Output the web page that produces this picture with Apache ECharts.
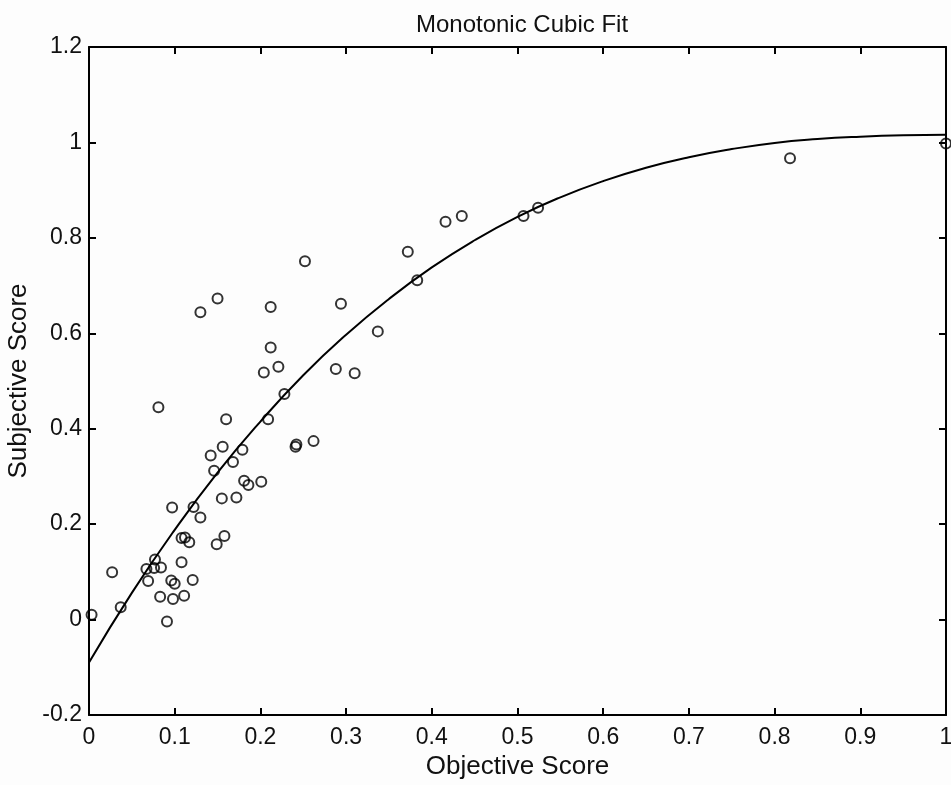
<!DOCTYPE html>
<html>
<head>
<meta charset="utf-8">
<script src="https://cdn.jsdelivr.net/npm/echarts@6/dist/echarts.min.js"></script>
<style>
  html, body { margin: 0; padding: 0; background: #fdfdfd; }
  #chart { width: 951px; height: 785px; }
</style>
</head>
<body>
<div id="chart"></div>
<script>
// Puntos medidos (puntuación objetiva, puntuación subjetiva)
const objectiveScores = [
  0.003, 0.027, 0.037, 0.067, 0.069, 0.076, 0.077, 0.083, 0.084, 0.081,
  0.091, 0.096, 0.097, 0.098, 0.100, 0.108, 0.108, 0.112, 0.111, 0.117,
  0.121, 0.122, 0.130, 0.130, 0.142, 0.146, 0.149, 0.150, 0.155, 0.156,
  0.158, 0.160, 0.168, 0.172, 0.179, 0.181, 0.186, 0.201, 0.204, 0.209,
  0.212, 0.212, 0.221, 0.228, 0.241, 0.242, 0.252, 0.262, 0.288, 0.294,
  0.310, 0.337, 0.372, 0.383, 0.416, 0.435, 0.507, 0.524, 0.818, 1.000
];
const subjectiveScores = [
  0.010, 0.099, 0.026, 0.106, 0.081, 0.108, 0.126, 0.048, 0.109, 0.445,
  -0.004, 0.082, 0.235, 0.043, 0.075, 0.120, 0.171, 0.172, 0.050, 0.162,
  0.083, 0.236, 0.214, 0.644, 0.344, 0.312, 0.158, 0.673, 0.254, 0.362,
  0.175, 0.420, 0.330, 0.256, 0.356, 0.291, 0.282, 0.289, 0.518, 0.420,
  0.570, 0.655, 0.530, 0.473, 0.362, 0.367, 0.751, 0.374, 0.525, 0.662,
  0.516, 0.604, 0.771, 0.711, 0.834, 0.846, 0.846, 0.863, 0.967, 0.998
];

// Curva ajustada
const fitX = [0, 0.05, 0.1, 0.15, 0.2, 0.25, 0.3, 0.35, 0.4, 0.45, 0.5,
              0.55, 0.6, 0.65, 0.7, 0.75, 0.8, 0.85, 0.9, 0.95, 1];
const fitY = [-0.090, 0.056, 0.188, 0.308, 0.415, 0.512, 0.597, 0.672, 0.738, 0.795, 0.844,
              0.885, 0.919, 0.947, 0.969, 0.986, 0.999, 1.007, 1.012, 1.015, 1.016];

const chart = echarts.init(document.getElementById('chart'));

const fontFamily = '"Liberation Sans", Arial, sans-serif';
const axisLineStyle = { color: '#000', width: 2 };
const tickStyle = { show: true, inside: true, length: 7, lineStyle: { color: '#000', width: 2 } };

chart.setOption({
  backgroundColor: '#fdfdfd',
  animation: false,
  title: {
    text: 'Monotonic Cubic Fit',
    left: 517,
    textAlign: 'center',
    top: 8,
    textStyle: { fontFamily, fontSize: 24, fontWeight: 'normal', color: '#111' }
  },
  grid: { left: 89, right: 5, top: 47, bottom: 70, outerBoundsMode: 'none' },
  xAxis: [
    {
      type: 'value', min: 0, max: 1, interval: 0.1,
      name: 'Objective Score', nameLocation: 'middle', nameGap: 38,
      nameTextStyle: { fontFamily, fontSize: 26, color: '#111' },
      axisLine: { show: true, onZero: false, lineStyle: axisLineStyle },
      axisTick: tickStyle,
      axisLabel: { fontFamily, fontSize: 23, color: '#111', margin: 11 },
      splitLine: { show: false }
    },
    {
      type: 'value', min: 0, max: 1, interval: 0.1, position: 'top',
      axisLine: { show: true, onZero: false, lineStyle: axisLineStyle },
      axisTick: tickStyle,
      axisLabel: { show: false },
      splitLine: { show: false }
    }
  ],
  yAxis: [
    {
      type: 'value', min: -0.2, max: 1.2, interval: 0.2,
      name: 'Subjective Score', nameLocation: 'middle', nameGap: 54,
      nameTextStyle: { fontFamily, fontSize: 26, color: '#111' },
      axisLine: { show: true, onZero: false, lineStyle: axisLineStyle },
      axisTick: tickStyle,
      axisLabel: { fontFamily, fontSize: 23, color: '#111', margin: 7 },
      splitLine: { show: false }
    },
    {
      type: 'value', min: -0.2, max: 1.2, interval: 0.2, position: 'right',
      axisLine: { show: true, onZero: false, lineStyle: axisLineStyle },
      axisTick: tickStyle,
      axisLabel: { show: false },
      splitLine: { show: false }
    }
  ],
  series: [
    {
      type: 'line',
      data: fitX.map((x, i) => [x, fitY[i]]),
      smooth: true,
      showSymbol: false,
      lineStyle: { color: '#000', width: 2 },
      z: 2
    },
    {
      type: 'scatter',
      data: objectiveScores.map((x, i) => [x, subjectiveScores[i]]),
      symbol: 'circle',
      symbolSize: 10,
      itemStyle: { color: 'rgba(0,0,0,0)', borderColor: '#000', borderWidth: 2 },
      z: 3
    }
  ]
});
</script>
</body>
</html>
